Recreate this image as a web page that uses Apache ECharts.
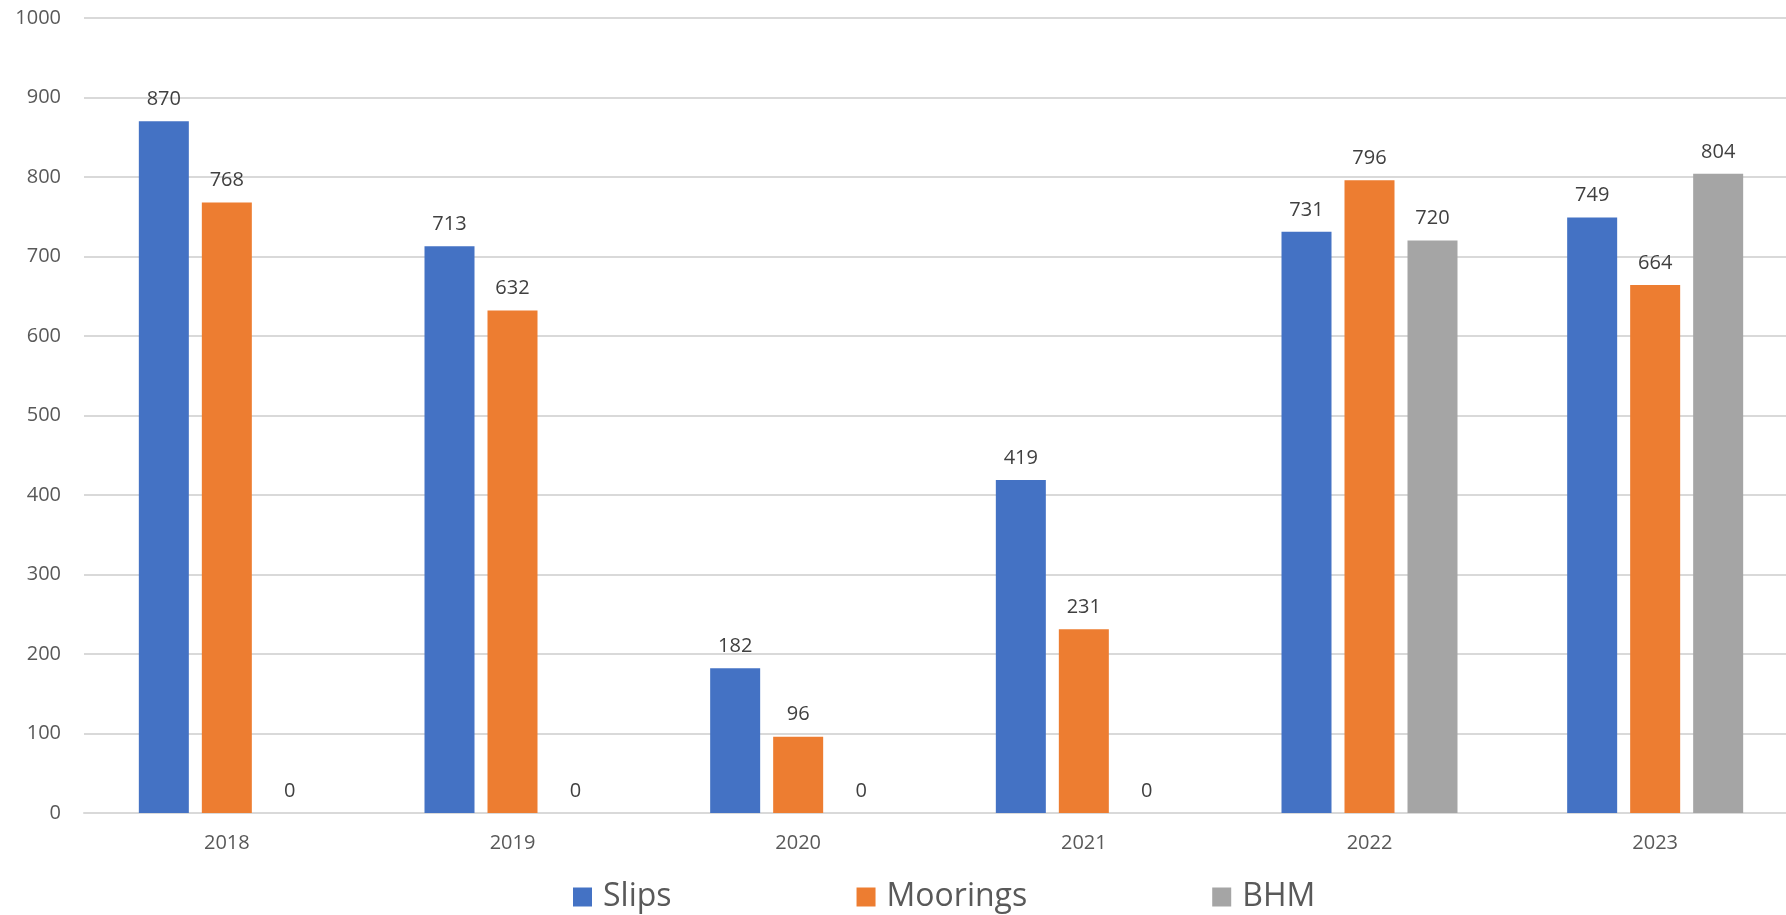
<!DOCTYPE html>
<html>
<head>
<meta charset="utf-8">
<script src="https://cdn.jsdelivr.net/npm/echarts@6/dist/echarts.min.js"></script>
<style>
html,body{margin:0;padding:0;background:#fff;overflow:hidden;}
#chart{width:1786px;height:915px;}
</style>
</head>
<body>
<div id="chart"></div>
<script>
var categories = ['2018', '2019', '2020', '2021', '2022', '2023'];
var slips = [870, 713, 182, 419, 731, 749];
var moorings = [768, 632, 96, 231, 796, 664];
var bhm = [0, 0, 0, 0, 720, 804];
var seriesNames = ['Slips', 'Moorings', 'BHM'];
var colors = ['#4472C4', '#ED7D31', '#A5A5A5'];

var FONT = '"Open Sans", "Liberation Sans", sans-serif';
var TXT = '#595959';

function bar(name, data, color) {
  return {
    name: name,
    type: 'bar',
    data: data,
    barWidth: 50,
    barGap: '26%',
    itemStyle: { color: color },
    label: {
      show: true,
      position: 'top',
      distance: 12,
      color: '#404040',
      fontFamily: FONT,
      fontSize: 20
    }
  };
}

var chart = echarts.init(document.getElementById('chart'));
chart.setOption({
  animation: false,
  backgroundColor: '#ffffff',
  grid: { left: 84, width: 1714, top: 18, bottom: 102, containLabel: false, outerBoundsMode: 'none' },
  legend: {
    data: seriesNames,
    left: 568,
    top: 876,
    icon: 'rect',
    itemWidth: 19,
    itemHeight: 19,
    itemGap: 185,
    textStyle: { color: TXT, fontFamily: FONT, fontSize: 32, padding: [0, 0, 0, 6] }
  },
  xAxis: {
    type: 'category',
    data: categories,
    axisLine: { lineStyle: { color: '#D9D9D9', width: 2 } },
    axisTick: { show: false },
    axisLabel: { color: TXT, fontFamily: FONT, fontSize: 20, margin: 20 }
  },
  yAxis: {
    type: 'value',
    min: 0,
    max: 1000,
    interval: 100,
    axisLine: { show: false },
    axisTick: { show: false },
    splitLine: { lineStyle: { color: '#D9D9D9', width: 2 } },
    axisLabel: { color: TXT, fontFamily: FONT, fontSize: 20, margin: 23, formatter: function (v) { return String(v); } }
  },
  series: [
    bar(seriesNames[0], slips, colors[0]),
    bar(seriesNames[1], moorings, colors[1]),
    bar(seriesNames[2], bhm, colors[2])
  ]
});
</script>
</body>
</html>
